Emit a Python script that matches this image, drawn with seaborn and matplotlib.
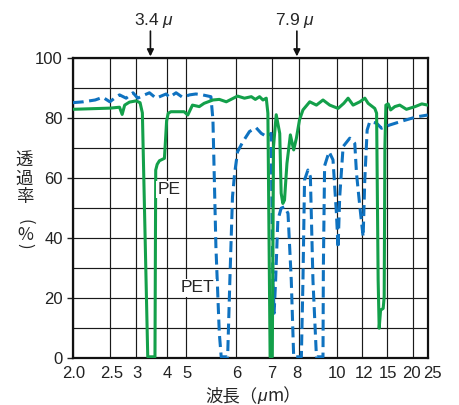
import numpy as np
import pandas as pd
import matplotlib
matplotlib.use("Agg")
import matplotlib.pyplot as plt
import matplotlib.transforms as mtransforms
import seaborn as sns

# ---- data (wavelength in micrometres, transmittance in %) ----
pe_wavelength = [2.0, 2.5, 2.66, 2.71, 2.76, 2.86, 3.01, 3.11, 3.17, 3.32,
                 3.545, 3.57, 3.62, 3.70, 3.89, 3.93, 3.98, 4.05, 4.17, 4.50,
                 4.88, 5.03, 5.11, 5.23, 5.32, 5.49, 5.62, 5.77, 6.03, 6.20,
                 6.38, 6.49, 6.61, 6.71, 6.81, 6.86, 6.93, 7.00, 7.04, 7.13,
                 7.25, 7.30, 7.36, 7.42, 7.51, 7.64, 7.77, 7.88, 8.01, 8.16,
                 8.47, 8.80, 9.15, 9.54, 10.07, 10.47, 10.79, 11.19, 11.78, 12.26,
                 12.59, 13.33, 13.55, 13.74, 13.87, 14.05, 14.40, 14.54, 14.64, 14.78,
                 15.12, 15.5, 16.2, 17.1, 18.5, 20.7, 22.8, 25.0]
pe_transmittance = [82.8, 83.2, 83.5, 81.1, 84.2, 85.2, 85.6, 85.0, 81.6, 0.5,
                    0.5, 62.6, 64.5, 65.7, 66.5, 72.0, 79.0, 81.5, 82.0, 82.0,
                    82.0, 80.9, 84.2, 83.7, 84.8, 85.9, 86.1, 85.3, 87.2, 86.5,
                    87.0, 86.1, 87.0, 85.9, 86.5, 81.5, 0.5, 0.5, 70.4, 81.0,
                    74.8, 54.9, 51.5, 52.6, 64.8, 74.3, 69.3, 73.2, 79.3, 82.6,
                    85.3, 84.2, 85.9, 84.2, 83.1, 84.8, 86.5, 84.2, 85.3, 86.5,
                    84.8, 83.1, 81.5, 26.0, 10.0, 16.0, 16.6, 20.5, 70.4, 84.2,
                    84.6, 82.6, 83.7, 84.2, 82.8, 83.7, 84.6, 84.2]

pet_wavelength = [2.0, 2.12, 2.27, 2.38, 2.49, 2.57, 2.66, 2.79, 2.94, 3.05,
                  3.23, 3.37, 3.58, 3.96, 4.10, 4.42, 4.78, 5.06, 5.17, 5.29,
                  5.45, 5.49, 5.55, 5.62, 5.66, 5.80, 5.85, 5.91, 5.96, 6.03,
                  6.16, 6.33, 6.51, 6.66, 6.83, 6.96, 7.02, 7.06, 7.11, 7.185,
                  7.30, 7.42, 7.55, 7.675, 7.77, 8.09, 8.16, 8.23, 8.385, 8.50,
                  8.625, 8.80, 9.15, 9.17, 9.24, 9.50, 9.74, 9.96, 10.07, 10.18,
                  10.42, 10.92, 11.33, 11.48, 11.78, 12.09, 12.25, 12.49, 12.77, 13.54,
                  14.18, 15.38, 17.8, 21.15, 25.0]
pet_transmittance = [85.0, 85.3, 85.9, 86.8, 85.3, 86.5, 87.6, 86.5, 88.3, 86.5,
                     87.6, 88.3, 86.5, 87.9, 86.8, 88.3, 86.8, 87.6, 87.9, 87.6,
                     87.0, 79.3, 37.1, 8.4, 0.5, 0.5, 26.0, 53.7, 61.5, 68.7,
                     72.0, 75.4, 76.7, 74.8, 73.7, 74.8, 26.0, 15.0, 26.0, 46.0,
                     49.9, 50.4, 48.2, 26.0, 0.5, 0.5, 26.0, 59.3, 62.6, 60.4,
                     26.0, 0.5, 0.5, 30.0, 64.0, 68.7, 66.0, 48.2, 36.6, 53.7,
                     70.4, 73.2, 71.5, 61.5, 50.4, 40.4, 59.3, 75.9, 78.7, 78.2,
                     76.5, 77.6, 79.0, 80.3, 80.9]

x_ticks = [2.0, 2.5, 3, 4, 5, 6, 7, 8, 10, 12, 15, 20, 25]
x_tick_labels = ["2.0", "2.5", "3", "4", "5", "6", "7", "8", "10", "12", "15", "20", "25"]
x_label_shift_px = [1, 1, 1, 0, 1, 0, -1, -2, 0, 2, 1, -1, 5]
y_ticks = [0, 20, 40, 60, 80, 100]
marked_wavelengths = [3.4, 7.9]
marked_labels = ["$\\mathsf{3.4}\\ \\mu$", "$\\mathsf{7.9}\\ \\mu$"]
ylabel_chars = ["透", "過", "率"]

GREEN = "#13a04a"
BLUE = "#0f72c0"
CJK = ["Noto Sans CJK JP", "DejaVu Sans"]

sns.set_theme(style="white")
plt.rcParams["font.family"] = ["Liberation Sans", "DejaVu Sans"]
plt.rcParams["mathtext.fontset"] = "custom"
plt.rcParams["mathtext.it"] = "Liberation Sans:italic"
plt.rcParams["mathtext.rm"] = "Liberation Sans"
plt.rcParams["mathtext.sf"] = "Liberation Sans"


# IR chart axis: linear in wavenumber, 4x expanded below 2000 cm-1
def fwd(lam):
    lam = np.asarray(lam, dtype=float)
    nu = 1e4 / np.clip(lam, 1e-6, None)
    return np.where(nu >= 2000, 5000 - nu, 3000 + 4 * (2000 - nu))


def inv(pos):
    pos = np.asarray(pos, dtype=float)
    nu = np.where(pos <= 3000, 5000 - pos, 2000 - (pos - 3000) / 4)
    nu = np.clip(nu, 1e-6, None)
    return 1e4 / nu


pe = pd.DataFrame({"wl": pe_wavelength, "T": pe_transmittance})
pet = pd.DataFrame({"wl": pet_wavelength, "T": pet_transmittance})

fig = plt.figure(figsize=(4.6, 4.05), dpi=100)
ax = fig.add_axes([0.158, 0.1153, 0.7717, 0.7425])
ax.set_xscale("function", functions=(fwd, inv))

sns.lineplot(data=pet, x="wl", y="T", ax=ax, sort=False, estimator=None,
             color=BLUE, lw=2.2, linestyle=(0, (3.6, 1.8)), zorder=3)
sns.lineplot(data=pe, x="wl", y="T", ax=ax, sort=False, estimator=None,
             color=GREEN, lw=2.2, zorder=4)

ax.set_xlim(2.0, 25)
ax.set_ylim(0, 100)
ax.set_xticks(x_ticks)
ax.set_xticklabels([])
ax.xaxis.set_minor_locator(matplotlib.ticker.NullLocator())
ax.set_yticks(y_ticks)
ax.set_yticks([10, 30, 50, 70, 90], minor=True)
ax.grid(True, which="both", axis="y", color="#1a1a1a", lw=0.85)
ax.grid(True, which="major", axis="x", color="#1a1a1a", lw=0.85)
ax.set_axisbelow(True)
ax.tick_params(axis="x", which="both", length=0)
ax.tick_params(axis="y", which="major", length=4, width=1, pad=3, labelsize=12,
               colors="#222222", left=True)
ax.tick_params(axis="y", which="minor", length=0)
for s in ax.spines.values():
    s.set_color("#111111")
    s.set_linewidth(1.6)
ax.set_xlabel("")
ax.set_ylabel("")

# x tick labels (spread slightly where crowded, as in the original)
xform = ax.get_xaxis_transform()
for xv, lab, sh in zip(x_ticks, x_tick_labels, x_label_shift_px):
    off = mtransforms.ScaledTranslation(sh / 100, -15.5 / 100, fig.dpi_scale_trans)
    ax.text(xv, 0, lab, transform=xform + off, ha="center", va="center",
            fontsize=12, color="#222222", clip_on=False)

# series labels
ax.text(4.08, 56.1, "PE", fontsize=12.5, ha="center", va="center", zorder=6,
        bbox=dict(facecolor="white", edgecolor="none", pad=1.0))
ax.text(5.20, 23.5, "PET", fontsize=12.5, ha="center", va="center", zorder=6,
        bbox=dict(facecolor="white", edgecolor="none", pad=1.0))

# top markers
for wl, lab, dx in zip(marked_wavelengths, marked_labels, [3, -1]):
    ax.annotate("", xy=(wl, 100.4), xytext=(wl, 108.8), annotation_clip=False,
                arrowprops=dict(arrowstyle="-|>", color="#111111", lw=1.2,
                                mutation_scale=10, shrinkA=0, shrinkB=0))
    ax.annotate(lab, xy=(wl, 112.3), xytext=(dx, 0), textcoords="offset points",
                ha="center", va="center", fontsize=12.5, annotation_clip=False)

# x axis label: 波長（μm） with italic μ
yl = 1 - 396 / 405
fig.text(257 / 460, yl, "波長（", ha="right", va="center", fontsize=12.5, family=CJK)
fig.text(262.5 / 460, yl, "μ", ha="center", va="center", fontsize=12.5,
         family=["Liberation Sans"], style="italic")
fig.text(267.5 / 460, yl, "m）", ha="left", va="center", fontsize=12.5, family=CJK)

# y axis label, written vertically
for ch, py in zip(ylabel_chars, [160.5, 179, 197.5]):
    fig.text(24.3 / 460, 1 - py / 405, ch, ha="center", va="center",
             fontsize=12.5, family=CJK)
fig.text(25 / 460, 1 - 221.5 / 405, "(", rotation=270, ha="center", va="center",
         fontsize=12, family=CJK)
fig.text(25 / 460, 1 - 234.5 / 405, "%", ha="center", va="center", fontsize=12.5,
         family=CJK)
fig.text(25 / 460, 1 - 245.5 / 405, ")", rotation=270, ha="center", va="center",
         fontsize=12, family=CJK)

fig.savefig("out.png", dpi=100)
